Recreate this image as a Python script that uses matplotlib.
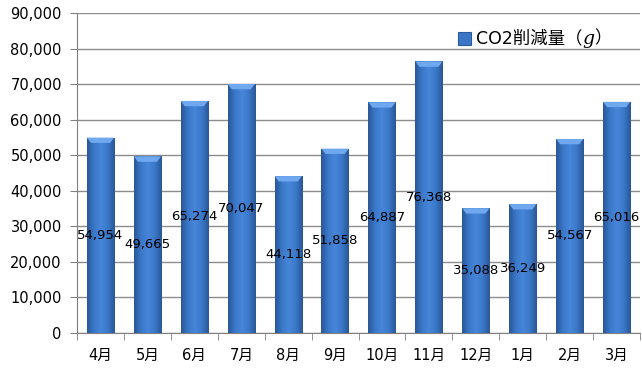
import numpy as np
import matplotlib
matplotlib.use("Agg")
import matplotlib.pyplot as plt
from matplotlib.patches import Polygon, Rectangle
from matplotlib.colors import LinearSegmentedColormap
from matplotlib.ticker import FuncFormatter, MultipleLocator
from matplotlib.offsetbox import AnchoredOffsetbox, DrawingArea, HPacker, TextArea

plt.rcParams['font.family'] = ['DejaVu Sans', 'Noto Sans CJK JP']

months = ['4月', '5月', '6月', '7月', '8月', '9月', '10月', '11月', '12月', '1月', '2月', '3月']
co2 = [54954, 49665, 65274, 70047, 44118, 51858, 64887, 76368, 35088, 36249, 54567, 65016]
legend_parts = ['CO2削減量（', 'g', '）']

fig = plt.figure(figsize=(6.42, 3.71), dpi=100)
ax = fig.add_axes([0.12, 0.1024, 0.877, 0.8626])

x = np.arange(len(months))
bars = ax.bar(x, co2, width=0.58, color='#3b76c6', zorder=2)

# horizontal shading like excel's bevel bars
grad = LinearSegmentedColormap.from_list('bar', ['#2a5796', '#3a78c9', '#4886da', '#3a78c9', '#2a5796'])
profile = np.linspace(0, 1, 64).reshape(1, -1)
bevel = 1500
for b in bars:
    bx, bw, bh = b.get_x(), b.get_width(), b.get_height()
    im = ax.imshow(profile, cmap=grad, extent=[bx, bx + bw, 0, bh], aspect='auto', zorder=3)
    im.set_clip_path(b)
    top = Polygon([[bx, bh], [bx + bw, bh], [bx + bw * 0.85, bh - bevel], [bx + bw * 0.15, bh - bevel]],
                  closed=True, facecolor='#6fa8ee', edgecolor='none', zorder=4)
    ax.add_patch(top)

for xi, v in zip(x, co2):
    ax.text(xi, v / 2, f'{v:,}', ha='center', va='center', fontsize=9.5, zorder=5)

ax.set_xlim(-0.5, len(months) - 0.5)
ax.set_ylim(0, 90000)
ax.set_xticks(x)
ax.set_xticklabels(months, fontsize=10.5)
ax.set_xticks(np.arange(-0.5, len(months)), minor=True)
ax.tick_params(axis='x', which='major', length=0, pad=11)
ax.tick_params(axis='x', which='minor', length=5, color='#808080')
ax.yaxis.set_major_locator(MultipleLocator(10000))
ax.yaxis.set_major_formatter(FuncFormatter(lambda v, p: f'{int(v):,}'))
ax.tick_params(axis='y', labelsize=10.5, length=5, color='#808080', pad=6)
ax.grid(axis='y', color='#8c8c8c', linewidth=1, zorder=0)
ax.set_axisbelow(True)
for s in ['top', 'right']:
    ax.spines[s].set_visible(False)
ax.spines['left'].set_color('#808080')
ax.spines['bottom'].set_color('#808080')

# legend built by hand so the g can be serif italic
swatch = DrawingArea(9, 9, 0, 0)
swatch.add_artist(Rectangle((0, 0), 9, 9, facecolor='#3b76c6', edgecolor='#2b5a9c', lw=0.8))
t1 = TextArea(legend_parts[0], textprops=dict(fontsize=12.5))
t2 = TextArea(legend_parts[1], textprops=dict(fontsize=13.5, family='DejaVu Serif', style='italic'))
t3 = TextArea(legend_parts[2], textprops=dict(fontsize=12.5))
label = HPacker(children=[t1, t2, t3], align='center', pad=0, sep=0)
pack = HPacker(children=[swatch, label], align='center', pad=0, sep=4)
box = AnchoredOffsetbox(loc='center left', child=pack, pad=0, borderpad=0, frameon=False,
                        bbox_to_anchor=(0.677, 0.92), bbox_transform=ax.transAxes)
ax.add_artist(box)

fig.savefig('out.png', dpi=100)
